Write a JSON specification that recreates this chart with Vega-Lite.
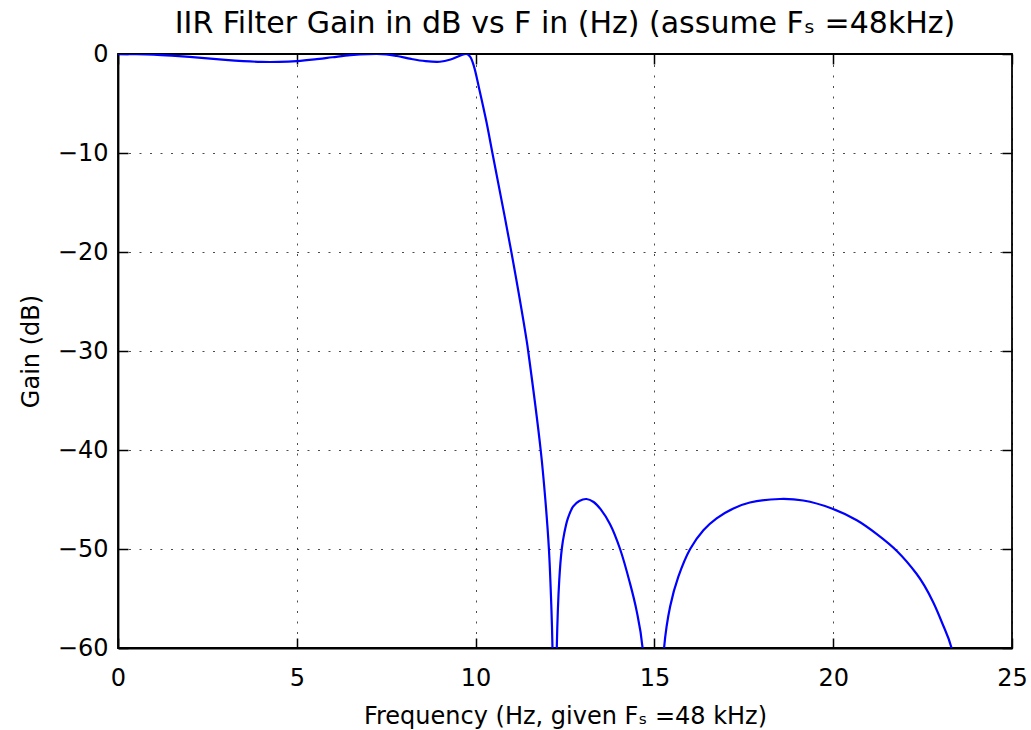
{
  "$schema": "https://vega.github.io/schema/vega-lite/v6.json",
  "width": 894,
  "height": 594,
  "autosize": {"type": "none"},
  "padding": {"left": 118, "top": 54, "right": 19, "bottom": 82},
  "background": "white",
  "config": {
    "font": "DejaVu Sans",
    "view": {"stroke": "black", "strokeWidth": 1.8},
    "axis": {
      "labelFont": "DejaVu Sans", "labelFontSize": 24, "labelColor": "black",
      "titleFont": "DejaVu Sans", "titleFontSize": 24, "titleFontWeight": "normal", "titleColor": "black",
      "domainColor": "black", "domainWidth": 1.8, "tickColor": "black", "tickSize": -10, "tickWidth": 1.5,
      "gridColor": "black", "gridOpacity": 0.7, "gridDash": [2, 8.5], "gridWidth": 1
    }
  },
  "title": {"text": "IIR Filter Gain in dB vs F in (Hz) (assume Fₛ =48kHz)", "fontSize": 30, "fontWeight": "normal", "font": "DejaVu Sans", "color": "black", "offset": 3},
  "data": {"values": [
    {"f": 0, "g": 0}, {"f": 0.5, "g": -0.02}, {"f": 1, "g": -0.07}, {"f": 1.5, "g": -0.17},
    {"f": 2, "g": -0.3}, {"f": 2.5, "g": -0.45}, {"f": 3, "g": -0.6}, {"f": 3.5, "g": -0.72},
    {"f": 4, "g": -0.8}, {"f": 4.5, "g": -0.8}, {"f": 5, "g": -0.72}, {"f": 5.5, "g": -0.55},
    {"f": 6, "g": -0.33}, {"f": 6.5, "g": -0.12}, {"f": 7, "g": -0.01}, {"f": 7.5, "g": -0.03},
    {"f": 7.8, "g": -0.2}, {"f": 8.2, "g": -0.5}, {"f": 8.6, "g": -0.72}, {"f": 9.0, "g": -0.78},
    {"f": 9.3, "g": -0.55}, {"f": 9.56, "g": -0.17}, {"f": 9.75, "g": 0}, {"f": 9.85, "g": -0.3},
    {"f": 9.95, "g": -1.2}, {"f": 10.1, "g": -3.5}, {"f": 10.3, "g": -6.8},
    {"f": 10.47, "g": -10}, {"f": 11.0, "g": -20},
    {"f": 11.43, "g": -29}, {"f": 11.47, "g": -30}, {"f": 11.82, "g": -40}, {"f": 11.95, "g": -45},
    {"f": 12.05, "g": -50}, {"f": 12.11, "g": -55}, {"f": 12.15, "g": -60}, {"f": 12.21, "g": -90},
    {"f": 12.27, "g": -60}, {"f": 12.34, "g": -53.1}, {"f": 12.41, "g": -50}, {"f": 12.48, "g": -48.4},
    {"f": 12.58, "g": -46.9}, {"f": 12.73, "g": -45.7}, {"f": 12.9, "g": -45.15}, {"f": 13.1, "g": -44.95}, {"f": 13.3, "g": -45.25},
    {"f": 13.5, "g": -46.0}, {"f": 13.76, "g": -47.5},
    {"f": 14.04, "g": -50}, {"f": 14.32, "g": -53.5}, {"f": 14.5, "g": -56.2}, {"f": 14.67, "g": -60}, {"f": 14.95, "g": -90},
    {"f": 15.27, "g": -60}, {"f": 15.44, "g": -55.8}, {"f": 15.67, "g": -52.8}, {"f": 16.0, "g": -50},
    {"f": 16.37, "g": -48.1}, {"f": 16.74, "g": -46.9}, {"f": 17.21, "g": -45.9}, {"f": 17.67, "g": -45.3},
    {"f": 18.51, "g": -44.95}, {"f": 19.16, "g": -45.1}, {"f": 19.96, "g": -45.9}, {"f": 20.66, "g": -47.1},
    {"f": 21.22, "g": -48.5}, {"f": 21.78, "g": -50.2}, {"f": 22.33, "g": -52.5}, {"f": 22.55, "g": -53.7},
    {"f": 22.8, "g": -55.4}, {"f": 23.05, "g": -57.5}, {"f": 23.31, "g": -60}, {"f": 24, "g": -75}, {"f": 25, "g": -95}
  ]},
  "resolve": {"scale": {"x": "independent", "y": "independent"}, "axis": {"x": "independent", "y": "independent"}},
  "layer": [
    {
      "mark": {"type": "line", "color": "#0000ff", "strokeWidth": 2.2, "clip": true, "interpolate": "catmull-rom"},
      "encoding": {
        "x": {"field": "f", "type": "quantitative", "scale": {"domain": [0, 25], "nice": false},
          "axis": {"orient": "bottom", "values": [0, 5, 10, 15, 20, 25], "labelPadding": 28, "title": "Frequency (Hz, given Fₛ =48 kHz)", "titlePadding": 14, "grid": true, "labelFlush": false}},
        "y": {"field": "g", "type": "quantitative", "scale": {"domain": [-60, 0], "nice": false, "zero": false},
          "axis": {"orient": "left", "values": [0, -10, -20, -30, -40, -50, -60], "labelPadding": 20, "title": "Gain (dB)", "titlePadding": 14, "grid": true}}
      }
    },
    {
      "mark": {"type": "line", "strokeOpacity": 0, "clip": true},
      "encoding": {
        "x": {"field": "f", "type": "quantitative", "scale": {"domain": [0, 25], "nice": false},
          "axis": {"orient": "top", "values": [0, 5, 10, 15, 20, 25], "labels": false, "title": null, "grid": false, "domain": false}},
        "y": {"field": "g", "type": "quantitative", "scale": {"domain": [-60, 0], "nice": false, "zero": false},
          "axis": {"orient": "right", "values": [0, -10, -20, -30, -40, -50, -60], "labels": false, "title": null, "grid": false, "domain": false}}
      }
    }
  ]
}
